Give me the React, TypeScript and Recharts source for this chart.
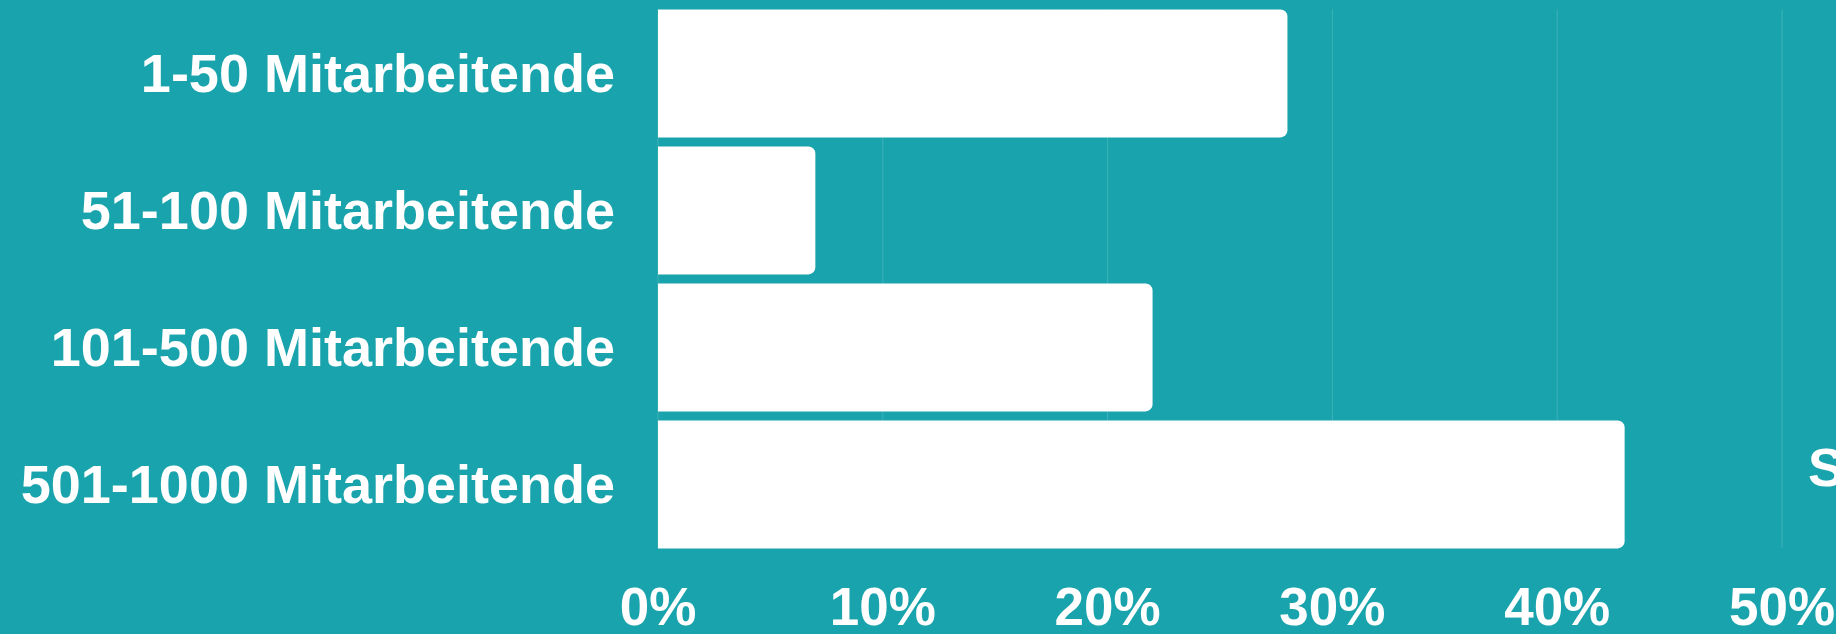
import React from 'react';
import { BarChart, Bar, XAxis, YAxis, CartesianGrid } from 'recharts';

const categories = ['1-50 Mitarbeitende', '51-100 Mitarbeitende', '101-500 Mitarbeitende', '501-1000 Mitarbeitende'];
const shares = [28, 7, 22, 43];
const xTicks = [0, 10, 20, 30, 40, 50];

const data = categories.map((name, i) => ({ name, value: shares[i] }));

const BG = '#19a3ac';
const FONT = '"Liberation Sans", Arial, sans-serif';
const HALF_GAP = 4.7;

const GridLine = (props: any) => {
  const { x1, x2, y1, y2 } = props;
  return (
    <line
      x1={x1}
      x2={x2}
      y1={y1 + HALF_GAP}
      y2={y2 - HALF_GAP}
      stroke="rgba(255,255,255,0.16)"
      strokeWidth={1}
    />
  );
};

export default function App() {
  return (
    <div style={{ position: 'absolute', left: 0, top: 0, width: 1836, height: 634, background: BG, overflow: 'hidden', fontFamily: FONT }}>
      <BarChart
        width={1836}
        height={634}
        data={data}
        layout="vertical"
        margin={{ top: HALF_GAP, right: 54, bottom: 0, left: 1 }}
        barCategoryGap={HALF_GAP}
      >
        <CartesianGrid horizontal={false} vertical={GridLine} />
        <XAxis
          type="number"
          domain={[0, 50]}
          ticks={xTicks}
          tickFormatter={(v: number) => `${v}%`}
          axisLine={false}
          tickLine={false}
          tickSize={0}
          tickMargin={35}
          height={81.3}
          interval={0}
          tick={{ fill: '#ffffff', fontSize: 53, fontWeight: 700, fontFamily: FONT }}
        />
        <YAxis
          type="category"
          dataKey="name"
          width={657}
          axisLine={false}
          tickLine={false}
          tickSize={0}
          tickMargin={43}
          interval={0}
          tick={{ fill: '#ffffff', fontSize: 54, fontWeight: 700, fontFamily: FONT }}
        />
        <Bar dataKey="value" fill="#ffffff" radius={[0, 7, 7, 0]} isAnimationActive={false} />
      </BarChart>
      <div
        style={{
          position: 'absolute',
          left: 1808,
          top: 440,
          color: '#ffffff',
          fontSize: 54,
          lineHeight: '54px',
          fontWeight: 700,
          fontFamily: FONT,
          whiteSpace: 'nowrap',
        }}
      >
        S
      </div>
    </div>
  );
}
